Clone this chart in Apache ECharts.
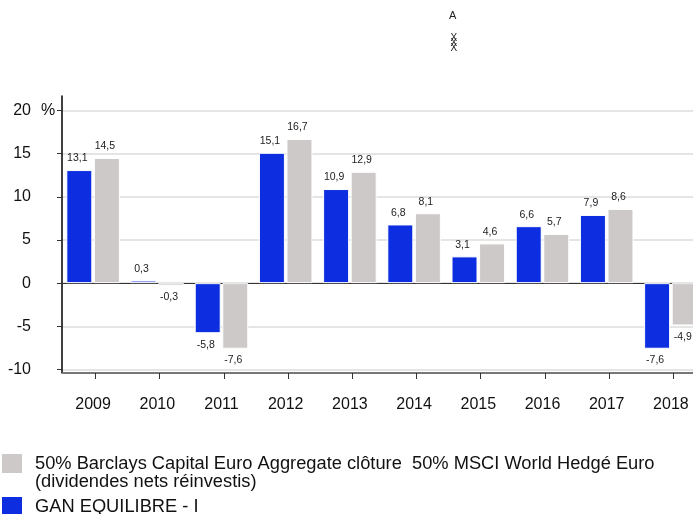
<!DOCTYPE html>
<html>
<head>
<meta charset="utf-8">
<style>
    html, body { margin: 0; padding: 0; background: #fff; }
    #chart { width: 693px; height: 514px; }
</style>
<script src="https://cdn.jsdelivr.net/npm/echarts@6/dist/echarts.min.js"></script>
</head>
<body>
<div id="chart"></div>
<script>
    var years = ['2009', '2010', '2011', '2012', '2013', '2014', '2015', '2016', '2017', '2018'];
    var fundValues = [13.1, 0.3, -5.8, 15.1, 10.9, 6.8, 3.1, 6.6, 7.9, -7.6];
    var benchValues = [14.5, -0.3, -7.6, 16.7, 12.9, 8.1, 4.6, 5.7, 8.6, -4.9];
    var yTicks = [-10, -5, 0, 5, 10, 15, 20];
    var fundName = 'GAN EQUILIBRE - I';
    var benchName = '50% Barclays Capital Euro Aggregate clôture  50% MSCI World Hedgé Euro\n(dividendes nets réinvestis)';

    var font = '"Liberation Sans", Arial, sans-serif';

    function commaLabel(p) {
        return String(p.value).replace('.', ',');
    }

    function barSeries(name, values, color) {
        return {
            name: name,
            type: 'bar',
            data: values,
            barWidth: 26,
            barGap: '6%',
            itemStyle: { color: color, borderColor: '#fff', borderWidth: 1 },
            label: {
                show: true,
                position: 'outside',
                distance: 6,
                offset: [-2, 0],
                fontFamily: font,
                fontSize: 10.5,
                color: '#222',
                formatter: commaLabel
            }
        };
    }

    var legendText = { fontFamily: font, fontSize: 18.3, color: '#111', lineHeight: 18, padding: [0, 0, 0, 8] };

    var chart = echarts.init(document.getElementById('chart'));
    chart.setOption({
        animation: false,
        textStyle: { fontFamily: font },
        grid: [
            { left: 61, top: 96, width: 642, height: 277, outerBoundsMode: 'none' },
            // ticks of the year axis sit a bit right of the bars
            { left: 63.3, top: 96, width: 642, height: 277, outerBoundsMode: 'none' }
        ],
        xAxis: [
            {
                type: 'category',
                data: years,
                position: 'bottom',
                axisLine: { show: false, onZero: false },
                axisTick: { show: false },
                axisLabel: { fontSize: 16, color: '#111', margin: 24, interval: 0 }
            },
            {
                type: 'category',
                data: years,
                axisLine: { onZero: true, lineStyle: { color: '#333', width: 1 } },
                axisTick: { show: false },
                axisLabel: { show: false }
            },
            {
                type: 'category',
                gridIndex: 1,
                data: years,
                position: 'bottom',
                axisLine: { onZero: false, lineStyle: { color: '#777', width: 2 } },
                axisTick: { show: true, alignWithLabel: true, interval: 0, length: 6, lineStyle: { color: '#333' } },
                axisLabel: { show: false, interval: 0 }
            }
        ],
        yAxis: [
            {
                type: 'value',
                min: -10.41,
                max: 21.68,
                offset: -1,
                axisLine: { show: true, onZero: false, lineStyle: { color: '#000', width: 1.5 } },
                axisTick: { show: true, length: 5, lineStyle: { color: '#333' }, customValues: yTicks },
                axisLabel: { fontSize: 16, color: '#111', margin: 31, customValues: yTicks },
                splitLine: { show: true, lineStyle: { color: '#dcdcdc', width: 1.5 } }
            },
            {
                type: 'value',
                gridIndex: 1,
                min: -10.41,
                max: 21.68,
                axisLine: { show: false },
                axisTick: { show: false },
                axisLabel: { show: false },
                splitLine: { show: false }
            }
        ],
        legend: [
            {
                left: 2,
                top: 436.5,
                padding: 0,
                itemWidth: 20,
                itemHeight: 19,
                selectedMode: false,
                icon: 'rect',
                itemStyle: { borderWidth: 0 },
                textStyle: legendText,
                // blank first line keeps the swatch level with the first text line
                formatter: function (name) { return '\n' + name; },
                data: [benchName]
            },
            {
                left: 2,
                top: 497,
                padding: 0,
                itemWidth: 20,
                itemHeight: 19,
                selectedMode: false,
                icon: 'rect',
                itemStyle: { borderWidth: 0 },
                textStyle: legendText,
                data: [fundName]
            }
        ],
        graphic: [
            { type: 'text', left: 449, top: 10, style: { text: 'A', fontFamily: font, fontSize: 11, fill: '#222' } },
            { type: 'text', left: 450.5, top: 33, style: { text: 'X', fontFamily: font, fontSize: 10, fill: '#222' } },
            { type: 'text', left: 450.5, top: 38, style: { text: 'X', fontFamily: font, fontSize: 10, fill: '#222' } },
            { type: 'text', left: 450.5, top: 43, style: { text: 'X', fontFamily: font, fontSize: 10, fill: '#222' } },
            { type: 'text', left: 41, top: 103, style: { text: '%', fontFamily: font, fontSize: 16, fill: '#111' } }
        ],
        series: [
            barSeries(fundName, fundValues, '#0c2ee0'),
            barSeries(benchName, benchValues, '#cdc9c8')
        ]
    });
</script>
</body>
</html>
